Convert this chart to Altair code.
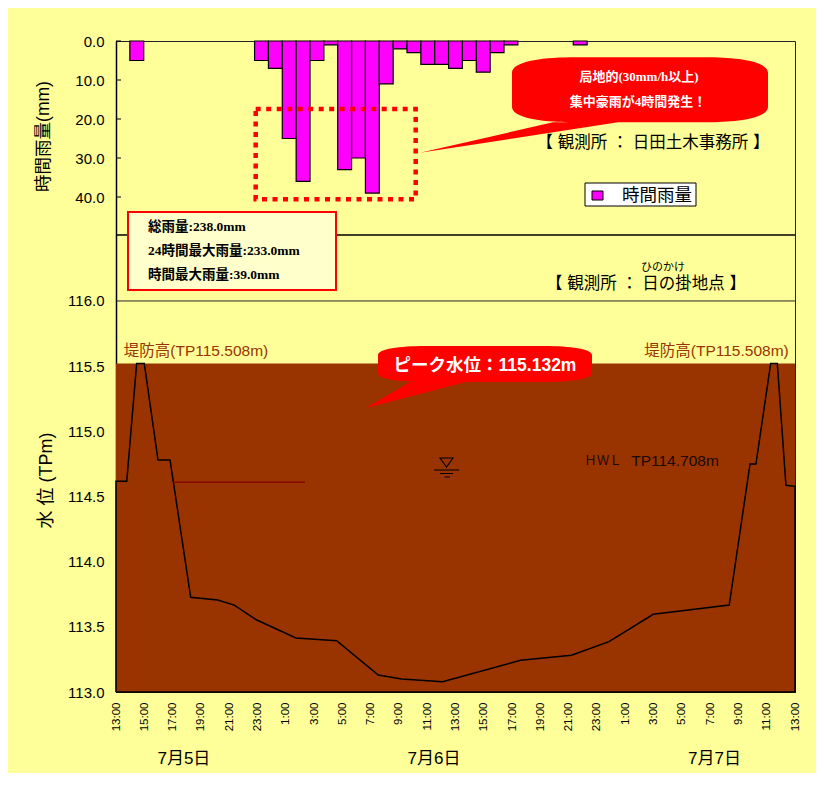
import altair as alt
import pandas as pd

# ---- data ----
rain_slot = [1, 10, 11, 12, 13, 14, 15, 16, 17, 18, 19, 20, 21, 22, 23, 24, 25, 26, 27, 28, 33]
rain_mm = [5, 5, 7, 25, 36, 5, 1, 33, 30, 39, 11, 2, 3, 6, 6, 7, 5, 8, 3, 1, 1]
rain_ticks = [0, 10, 20, 30, 40]
level_ticks = [113.0, 113.5, 114.0, 114.5, 115.0, 115.5, 116.0]
hour_ticks = list(range(0, 49, 2))
hour_labels = ["13:00", "15:00", "17:00", "19:00", "21:00", "23:00", "1:00", "3:00", "5:00", "7:00", "9:00", "11:00"] * 2 + ["13:00"]
section_hour = [0, 0, 0.76, 1.46, 2.0, 2.97, 3.82, 5.28, 7.19, 8.36, 9.95, 12.72, 15.6, 18.54, 20.2, 23.09,
                28.6, 32.2, 34.85, 37.98, 43.35, 44.82, 45.24, 46.28, 46.75, 47.36, 48, 48, 0]
section_level = [113.0, 114.617, 114.617, 115.52, 115.52, 114.78, 114.78, 113.727, 113.706, 113.667, 113.552,
                 113.414, 113.394, 113.13, 113.1, 113.079, 113.243, 113.282, 113.386, 113.596, 113.667,
                 114.749, 114.749, 115.52, 115.52, 114.586, 114.578, 113.0, 113.0]
bank_level = 115.52
hwl_hours = [4.03, 13.36]
hwl_level = 114.61
date_labels = ["7月5日", "7月6日", "7月7日"]
date_hours = [4.8, 22.48, 42.31]

YELLOW = "#FFFF99"
BROWN = "#993300"
SANS = "Liberation Sans, Noto Sans CJK JP"
SERIF = "Liberation Serif, Noto Sans CJK JP"
OX, OY = 116, 41  # plot origin on the page
W, H = 679, 651


def px(v):
    return v - OX


def py(v):
    return v - OY


rain_df = pd.DataFrame({"s": rain_slot, "e": [v + 1 for v in rain_slot], "mm": rain_mm})
section_df = pd.DataFrame({"o": range(len(section_hour)), "h": section_hour, "lv": section_level})

rain_y = alt.Scale(domain=[0, 50], range=[0, 195], nice=False, zero=False)
level_y = alt.Scale(domain=[113, 116.5], range=[651, 194.8], nice=False, zero=False)
rain_x = alt.Scale(domain=[0, 49], nice=False, zero=False)
hour_x = alt.Scale(domain=[0, 48], nice=False, zero=False)

label_map = "{" + ",".join(f'"{h}":"{l}"' for h, l in zip(hour_ticks, hour_labels)) + "}"


def txt(text, X, Y, size=14, font=SANS, color="black", weight="normal", align="center", angle=0):
    kw = dict(fontSize=size, font=font, color=color, fontWeight=weight, align=align, baseline="middle")
    if angle:
        kw["angle"] = angle
    return alt.Chart(alt.Data(values=[{"t": text}])).mark_text(**kw).encode(
        x=alt.value(px(X)), y=alt.value(py(Y)), text="t:N"
    )


def shape(path, X, Y, fill=None, stroke=None, sw=0):
    kw = dict(shape=path, size=4, opacity=1, strokeWidth=sw)
    kw["filled"] = fill is not None
    if fill:
        kw["fill"] = fill
    if stroke:
        kw["stroke"] = stroke
    return alt.Chart(alt.Data(values=[{"a": 1}])).mark_point(**kw).encode(
        x=alt.value(px(X)), y=alt.value(py(Y))
    )


def box(x0, y0, x1, y1, **kw):
    return alt.Chart(alt.Data(values=[{"a": 1}])).mark_rect(**kw).encode(
        x=alt.value(px(x0)), x2=alt.value(px(x1)), y=alt.value(py(y0)), y2=alt.value(py(y1))
    )


# water fill + level axis + hour axis
water = alt.Chart(alt.Data(values=[{"a": 113.0, "b": bank_level, "h0": 0, "h1": 48}])).mark_rect(color=BROWN).encode(
    x=alt.X("h0:Q", scale=hour_x, axis=alt.Axis(
        orient="bottom", values=hour_ticks, labelExpr=f"{label_map}[datum.value]", labelAngle=270,
        labelAlign="right", labelBaseline="middle", labelFontSize=11.5, labelFont=SANS, labelColor="black",
        labelPadding=10, tickSize=0, domain=False, grid=False, title=None, labelOverlap=False)),
    x2="h1:Q",
    y=alt.Y("a:Q", scale=level_y, axis=alt.Axis(
        orient="left", values=level_ticks, format=".1f", labelFontSize=15, labelFont=SANS, labelColor="black",
        labelPadding=12, tickSize=0, domainColor="black", domainWidth=1.5, grid=False,
        title="水 位 (TPm)", titleFont=SANS, titleFontSize=18, titleFontWeight="normal", titleColor="black",
        titleX=-61, titleY=439, titleAngle=270)),
    y2="b:Q",
)

# rainfall bars + rain axis
bars = alt.Chart(rain_df).mark_bar(color="#FF00FF", stroke="black", strokeWidth=1.2).encode(
    x=alt.X("s:Q", scale=rain_x, axis=None),
    x2="e:Q",
    y=alt.Y("mm:Q", scale=rain_y, axis=alt.Axis(
        orient="left", values=rain_ticks, format=".1f", labelFontSize=15, labelFont=SANS, labelColor="black",
        labelPadding=12, tickSize=0, domainColor="black", domainWidth=1.5, grid=False,
        title="時間雨量(mm)", titleFont=SANS, titleFontSize=17.5, titleFontWeight="normal", titleColor="black",
        titleX=-64, titleY=95, titleAngle=270)),
    y2=alt.datum(0),
)

rain_inner_ticks = alt.Chart(pd.DataFrame({"v": rain_ticks})).mark_rule(color="black", strokeWidth=1).encode(
    x=alt.value(0), x2=alt.value(5), y=alt.Y("v:Q", scale=rain_y, axis=None)
)

grid_116 = alt.Chart(pd.DataFrame({"v": [116.0]})).mark_rule(color="#222222", strokeWidth=1).encode(
    x=alt.value(0), x2=alt.value(W), y=alt.Y("v:Q", scale=level_y, axis=None)
)
panel_line = alt.Chart(pd.DataFrame({"v": [1]})).mark_rule(color="black", strokeWidth=1.6).encode(
    x=alt.value(0), x2=alt.value(W), y=alt.value(194)
)

section = alt.Chart(section_df).mark_line(color="black", strokeWidth=1.5, interpolate="linear").encode(
    x=alt.X("h:Q", scale=hour_x, axis=None),
    y=alt.Y("lv:Q", scale=level_y, axis=None),
    order="o:Q",
)

hwl = alt.Chart(pd.DataFrame({"h": hwl_hours, "lv": [hwl_level] * 2})).mark_line(color="#800000", strokeWidth=1.2).encode(
    x=alt.X("h:Q", scale=hour_x, axis=None),
    y=alt.Y("lv:Q", scale=level_y, axis=None),
)

dates = alt.Chart(pd.DataFrame({"h": date_hours, "t": date_labels})).mark_text(
    fontSize=17, font=SANS, color="black", baseline="middle"
).encode(x=alt.X("h:Q", scale=hour_x, axis=None), y=alt.value(py(759)), text="t:N")

dotted = box(255.7, 109, 415.7, 199.3, filled=False, stroke="#FF0000", strokeWidth=4.5, strokeDash=[5, 5.5], fillOpacity=0)

# callouts (paths are relative to the anchor, in pixels)
rain_callout = shape(
    "M-128,-17 C-128,-28 -100,-32 -70,-32.5 L70,-32.5 C100,-32 128,-28 128,-17 L128,17 C128,28 100,32 70,32.5 "
    "L-22,32.5 L-220,63 L-87,32.5 L-70,32.5 C-100,32 -128,28 -128,17 Z",
    640, 89.8, fill="#FF0000",
)
peak_callout = shape(
    "M-107,-9 C-107,-15 -85,-18 -60,-18 L60,-18 C85,-18 107,-15 107,-9 L107,9 C107,15 85,18 60,18 "
    "L-19,18 L-119,44 L-75,18 L-60,18 C-85,18 -107,15 -107,9 Z",
    485, 364, fill="#FF0000",
)

info_box = box(128, 212, 336, 290, color="#FFFFCC", stroke="#FF0000", strokeWidth=2)

water_symbol = shape(
    "M-7,-8 L6,-8 L-0.5,1 Z M-13,4 L12,4 M-7,7.5 L6,7.5 M-2.5,11 L3,11",
    447, 466, stroke="black", sw=1.1,
)

legend_box = box(585, 183, 696, 206, color="white", stroke="black", strokeWidth=1)
legend_swatch = box(592, 191, 603, 200, color="#FF00FF", stroke="black", strokeWidth=1)

chart = alt.layer(
    water,
    grid_116,
    panel_line,
    bars,
    rain_inner_ticks,
    section,
    hwl,
    dotted,
    rain_callout,
    peak_callout,
    info_box,
    water_symbol,
    legend_box,
    legend_swatch,
    dates,
    txt("時間雨量", 657, 196, size=17.5, font=SANS),
    txt("総雨量:238.0mm", 148, 227, size=13.5, font=SERIF, weight="bold", align="left"),
    txt("24時間最大雨量:233.0mm", 148, 251, size=13.5, font=SERIF, weight="bold", align="left"),
    txt("時間最大雨量:39.0mm", 148, 275, size=13.5, font=SERIF, weight="bold", align="left"),
    txt("局地的(30mm/h以上)", 639, 77, size=13, font=SERIF, color="white", weight="bold"),
    txt("集中豪雨が4時間発生！", 638, 102, size=13, font=SERIF, color="white", weight="bold"),
    txt("ピーク水位：115.132m", 485, 366, size=17.5, font=SANS, color="white", weight="bold"),
    txt("【    観測所 ： 日田土木事務所    】", 653, 143, size=16.5),
    txt("【    観測所 ： 日の掛地点    】", 646, 284, size=16.5),
    txt("ひのかけ", 663, 268, size=11),
    txt("堤防高(TP115.508m)", 196, 351, size=15.5, color=BROWN),
    txt("堤防高(TP115.508m)", 716.5, 351, size=15.5, color=BROWN),
    txt("ＨＷＬ", 603, 461, size=12.5, color="#1a0a00"),
    txt("TP114.708m", 675, 461, size=15.5, color="#1a0a00"),
).resolve_scale(x="independent", y="independent").properties(
    width=W,
    height=H,
    background=YELLOW,
    padding={"left": 108, "top": 33, "right": 21, "bottom": 81},
    autosize=alt.AutoSizeParams(type="none"),
).configure_view(stroke="#222222", strokeWidth=1)

chart.save("out.html", embed_options={"renderer": "svg", "actions": False})
